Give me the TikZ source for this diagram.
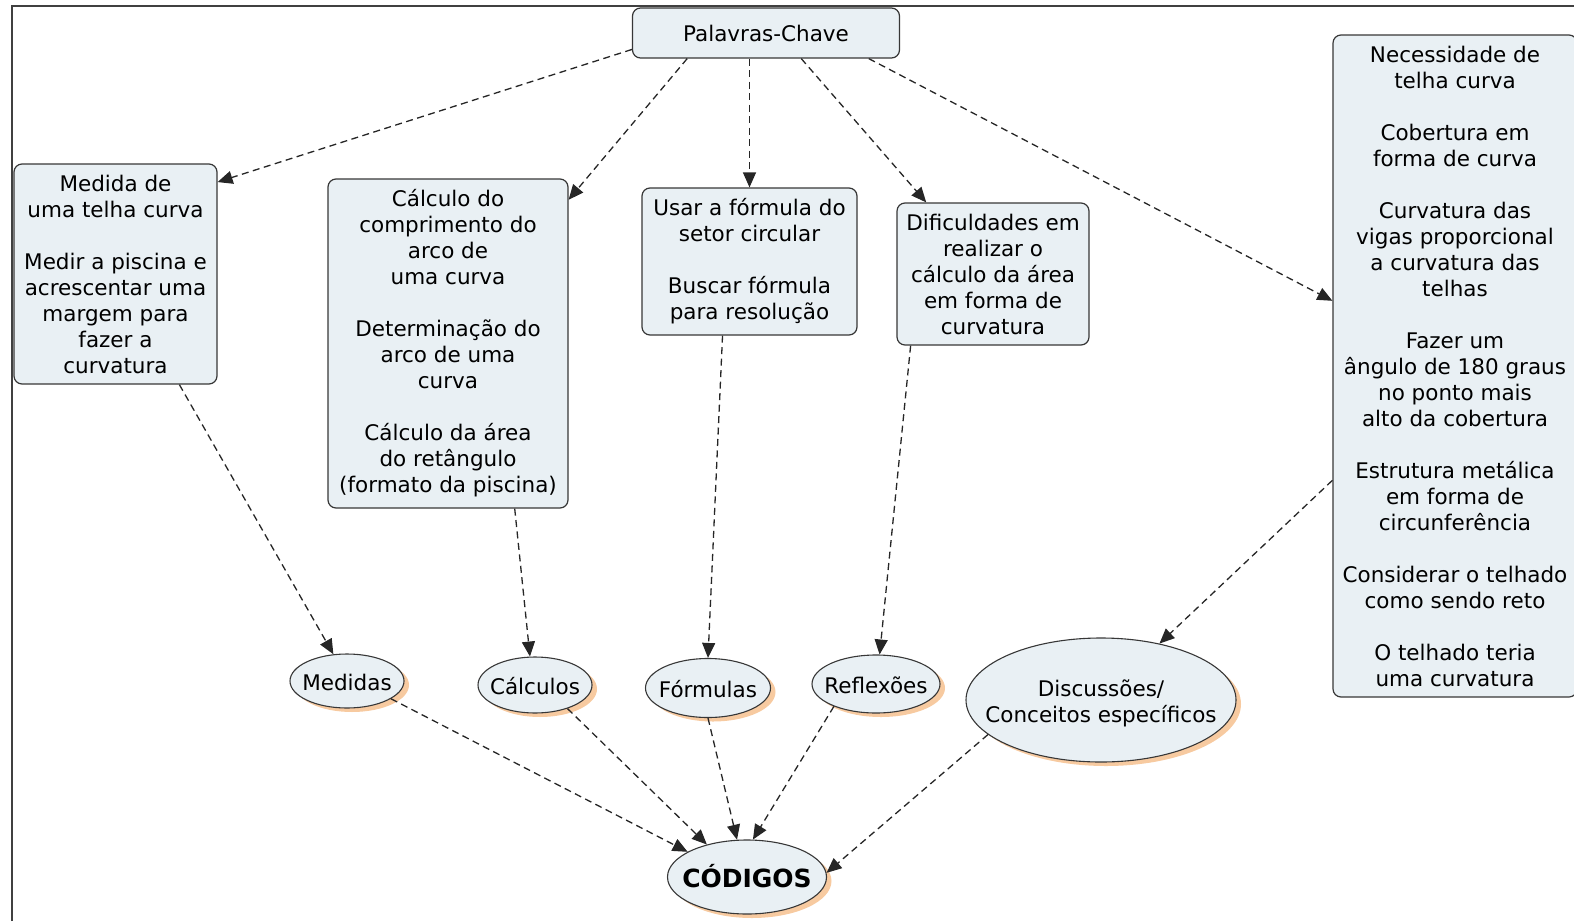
\documentclass[tikz,border=0pt]{standalone}
\usepackage{fontspec}
\setmainfont{DejaVu Sans}
\usetikzlibrary{shapes.geometric, arrows.meta, shadows}
\definecolor{boxfill}{RGB}{233, 240, 244}
\definecolor{peach}{RGB}{246, 196, 150}
\definecolor{edgegray}{RGB}{55, 55, 55}
\newcommand{\ovaltxt}[1]{\makebox[0pt]{\raisebox{-9.5pt}[0pt][0pt]{\begin{tabular}{@{}c@{}}#1\end{tabular}}}}

\begin{document}
\begin{tikzpicture}[
  x=1pt, y=-1pt,
  kbox/.style={draw=edgegray, line width=1.2pt, fill=boxfill, rounded corners=8pt, align=center, inner xsep=4pt, inner ysep=6pt, font=\fontsize{21.5}{26}\selectfont},
  koval/.style={ellipse, draw=edgegray, line width=1.1pt, fill=boxfill, inner sep=0pt, font=\fontsize{21.5}{26}\selectfont, drop shadow={shadow xshift=5pt, shadow yshift=-4pt, fill=peach, opacity=0.9}},
  link/.style={-{Triangle[length=15pt, width=13pt]}, line width=1.3pt, draw=black!85, dash pattern=on 7pt off 4.5pt}
]
  \useasboundingbox (0,0) rectangle (1574,921);
  \clip (0,0) rectangle (1574,921);

  % Frame
  \draw[line width=1.3pt, black!75] (12,921) -- (12,6) -- (1574,6);

  \node[kbox, minimum width=267pt, minimum height=50pt] (pal) at (766,33) {Palavras-Chave};

  \node[kbox, minimum width=203pt, minimum height=220pt] (medir) at (115.5,274) {
    Medida de\\uma telha curva\\[26pt]
    Medir a piscina e\\acrescentar uma\\margem para\\fazer a\\curvatura
  };
  \node[kbox, minimum width=240pt, minimum height=329pt] (calc) at (448,343.5) {
    Cálculo do\\comprimento do\\arco de\\uma curva\\[26pt]
    Determinação do\\arco de uma\\curva\\[26pt]
    Cálculo da área\\do retângulo\\(formato da piscina)
  };
  \node[kbox, minimum width=215pt, minimum height=147pt] (formula) at (749.5,261.5) {
    Usar a fórmula do\\setor circular\\[26pt]
    Buscar fórmula\\para resolução
  };
  \node[kbox, minimum width=192pt, minimum height=142pt] (difi) at (993,274) {
    Dificuldades em\\realizar o\\cálculo da área\\em forma de\\curvatura
  };
  \node[kbox, minimum width=244pt, minimum height=662pt] (telha) at (1455,366) {
    Necessidade de\\telha curva\\[26pt]
    Cobertura em\\forma de curva\\[26pt]
    Curvatura das\\vigas proporcional\\a curvatura das\\telhas\\[26pt]
    Fazer um\\ângulo de 180 graus\\no ponto mais\\alto da cobertura\\[26pt]
    Estrutura metálica\\em forma de\\circunferência\\[26pt]
    Considerar o telhado\\como sendo reto\\[26pt]
    O telhado teria\\uma curvatura
  };

  \node[koval, minimum width=114pt, minimum height=54pt] (medidas) at (347,681) {\ovaltxt{Medidas}};
  \node[koval, minimum width=114pt, minimum height=56pt] (calculos) at (535,685) {\ovaltxt{Cálculos}};
  \node[koval, minimum width=125pt, minimum height=59pt] (formulas) at (708,688) {\ovaltxt{Fórmulas}};
  \node[koval, minimum width=128pt, minimum height=58pt] (reflexoes) at (876,684) {\ovaltxt{Reflexões}};
  \node[koval, minimum width=270pt, minimum height=124pt] (discussoes) at (1101,700) {\ovaltxt{Discussões/\\Conceitos específicos}};
  \node[koval, minimum width=159pt, minimum height=74pt, font=\fontsize{25}{28}\selectfont\bfseries] (codigos) at (747,877) {\ovaltxt{CÓDIGOS}};

  % Arrows from the key words
  \draw[link] (pal.187) -- (medir.42);
  \draw[link] (pal.198) -- (calc.50);
  \draw[link] (pal.south -| formula.north) -- (formula.north);
  \draw[link] (pal.324) -- (difi.133);
  \draw[link] (pal.346) -- (telha.152);

  % Arrows to the categories
  \draw[link] (medir.300) -- (medidas.117);
  \draw[link] (calc.292) -- (calculos.100);
  \draw[link] (formula.250) -- (formulas.north);
  \draw[link] (difi.221) -- (reflexoes.83);
  \draw[link] (telha.223) -- (discussoes.44);

  % Arrows to the codes
  \draw[link] (medidas.338) -- (codigos.157);
  \draw[link] (calculos.324) -- (codigos.141);
  \draw[link] (formulas.south) -- (codigos.105);
  \draw[link] (reflexoes.208) -- (codigos.81);
  \draw[link] (discussoes.197) -- (codigos.3);
\end{tikzpicture}
\end{document}
